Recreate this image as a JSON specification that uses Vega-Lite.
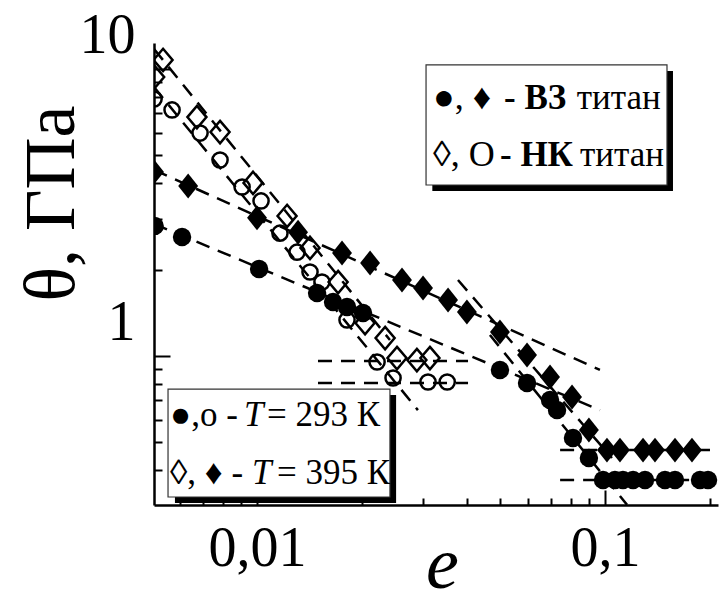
{
  "$schema": "https://vega.github.io/schema/vega-lite/v6.json",
  "width": 564,
  "height": 462,
  "autosize": {"type": "none"},
  "padding": {"left": 154, "top": 43, "right": 1, "bottom": 97},
  "background": "white",
  "view": {"stroke": null},
  "config": {
    "font": "Liberation Serif",
    "axis": {"labelFont": "Liberation Serif", "titleFont": "Liberation Serif", "labelColor": "black", "titleColor": "black", "grid": false}
  },
  "datasets": {
    "pts": [
      {"s": "vz293", "x": 0.00508, "y": 2.84}, {"s": "vz293", "x": 0.00609, "y": 2.60}, {"s": "vz293", "x": 0.01014, "y": 2.01},
      {"s": "vz293", "x": 0.01488, "y": 1.658}, {"s": "vz293", "x": 0.01654, "y": 1.542}, {"s": "vz293", "x": 0.01814, "y": 1.482},
      {"s": "vz293", "x": 0.02017, "y": 1.412}, {"s": "vz293", "x": 0.0499, "y": 0.894}, {"s": "vz293", "x": 0.0597, "y": 0.805},
      {"s": "vz293", "x": 0.0695, "y": 0.703}, {"s": "vz293", "x": 0.0728, "y": 0.648}, {"s": "vz293", "x": 0.0809, "y": 0.518},
      {"s": "vz293", "x": 0.0899, "y": 0.441}, {"s": "vz293", "x": 0.0987, "y": 0.37}, {"s": "vz293", "x": 0.1068, "y": 0.37},
      {"s": "vz293", "x": 0.1126, "y": 0.37}, {"s": "vz293", "x": 0.1204, "y": 0.37}, {"s": "vz293", "x": 0.1303, "y": 0.37},
      {"s": "vz293", "x": 0.1487, "y": 0.37}, {"s": "vz293", "x": 0.1589, "y": 0.37}, {"s": "vz293", "x": 0.1875, "y": 0.37},
      {"s": "vz293", "x": 0.1977, "y": 0.37},
      {"s": "vz395", "x": 0.00506, "y": 4.38}, {"s": "vz395", "x": 0.00634, "y": 3.91}, {"s": "vz395", "x": 0.0100, "y": 3.03},
      {"s": "vz395", "x": 0.01312, "y": 2.70}, {"s": "vz395", "x": 0.01755, "y": 2.285}, {"s": "vz395", "x": 0.02113, "y": 2.109},
      {"s": "vz395", "x": 0.0261, "y": 1.84}, {"s": "vz395", "x": 0.030, "y": 1.726}, {"s": "vz395", "x": 0.0354, "y": 1.567},
      {"s": "vz395", "x": 0.0401, "y": 1.423}, {"s": "vz395", "x": 0.0499, "y": 1.212}, {"s": "vz395", "x": 0.0597, "y": 1.008},
      {"s": "vz395", "x": 0.0695, "y": 0.845}, {"s": "vz395", "x": 0.0804, "y": 0.720}, {"s": "vz395", "x": 0.0899, "y": 0.552},
      {"s": "vz395", "x": 0.1013, "y": 0.47}, {"s": "vz395", "x": 0.1104, "y": 0.47}, {"s": "vz395", "x": 0.1286, "y": 0.47},
      {"s": "vz395", "x": 0.1392, "y": 0.47}, {"s": "vz395", "x": 0.1589, "y": 0.47}, {"s": "vz395", "x": 0.1778, "y": 0.47},
      {"s": "nk293", "x": 0.00506, "y": 7.86}, {"s": "nk293", "x": 0.0057, "y": 7.20}, {"s": "nk293", "x": 0.00686, "y": 5.98},
      {"s": "nk293", "x": 0.00783, "y": 4.82}, {"s": "nk293", "x": 0.00906, "y": 3.88}, {"s": "nk293", "x": 0.01027, "y": 3.47},
      {"s": "nk293", "x": 0.01164, "y": 2.68}, {"s": "nk293", "x": 0.01303, "y": 2.30}, {"s": "nk293", "x": 0.0142, "y": 1.962},
      {"s": "nk293", "x": 0.01537, "y": 1.81}, {"s": "nk293", "x": 0.01814, "y": 1.335}, {"s": "nk293", "x": 0.02213, "y": 0.953},
      {"s": "nk293", "x": 0.0246, "y": 0.838}, {"s": "nk293", "x": 0.031, "y": 0.812}, {"s": "nk293", "x": 0.0352, "y": 0.812},
      {"s": "nk395", "x": 0.00508, "y": 9.38}, {"s": "nk395", "x": 0.00537, "y": 10.75}, {"s": "nk395", "x": 0.00672, "y": 6.80},
      {"s": "nk395", "x": 0.00783, "y": 6.03}, {"s": "nk395", "x": 0.00974, "y": 4.01}, {"s": "nk395", "x": 0.0122, "y": 3.075},
      {"s": "nk395", "x": 0.0142, "y": 2.38}, {"s": "nk395", "x": 0.0171, "y": 1.81}, {"s": "nk395", "x": 0.02044, "y": 1.303},
      {"s": "nk395", "x": 0.02334, "y": 1.155}, {"s": "nk395", "x": 0.02525, "y": 0.984}, {"s": "nk395", "x": 0.0288, "y": 0.968},
      {"s": "nk395", "x": 0.0314, "y": 0.984}
    ],
    "fits": [
      {"id": "a", "x": 0.00506, "y": 2.884}, {"id": "a", "x": 0.0967, "y": 0.648},
      {"id": "b", "x": 0.0467, "y": 1.184}, {"id": "b", "x": 0.1157, "y": 0.303},
      {"id": "c", "x": 0.00506, "y": 4.45}, {"id": "c", "x": 0.0967, "y": 0.894},
      {"id": "d", "x": 0.0378, "y": 1.84}, {"id": "d", "x": 0.1047, "y": 0.441},
      {"id": "e1", "x": 0.00506, "y": 11.74}, {"id": "e1", "x": 0.0241, "y": 1.137},
      {"id": "e2", "x": 0.00506, "y": 8.65}, {"id": "e2", "x": 0.029, "y": 0.648},
      {"id": "f1", "x": 0.01497, "y": 0.96}, {"id": "f1", "x": 0.0404, "y": 0.96},
      {"id": "f2", "x": 0.01497, "y": 0.805}, {"id": "f2", "x": 0.0404, "y": 0.805},
      {"id": "g1", "x": 0.0743, "y": 0.47}, {"id": "g1", "x": 0.2003, "y": 0.47},
      {"id": "g2", "x": 0.0743, "y": 0.37}, {"id": "g2", "x": 0.2003, "y": 0.37}
    ],
    "shadows": [
      {"x": 0.0319, "x2": 0.1568, "y": 3.757, "y2": 9.84},
      {"x": 0.00581, "x2": 0.0251, "y": 0.3075, "y2": 0.731}
    ],
    "boxes": [
      {"x": 0.0306, "x2": 0.1507, "y": 3.943, "y2": 10.33},
      {"x": 0.00555, "x2": 0.0241, "y": 0.3227, "y2": 0.767}
    ],
    "notes": [
      {"box": 1, "kind": "regular", "x": 0.03203, "y": 7.925, "t": "●, ♦"},
      {"box": 1, "kind": "bold", "x": 0.05126, "y": 7.925, "t": "- ВЗ"},
      {"box": 1, "kind": "title", "x": 0.0829, "y": 7.925, "t": "титан"},
      {"box": 1, "kind": "regular", "x": 0.03203, "y": 5.015, "t": "◊, O"},
      {"box": 1, "kind": "bold", "x": 0.04991, "y": 5.015, "t": "- НК"},
      {"box": 1, "kind": "title", "x": 0.08476, "y": 5.015, "t": "титан"},
      {"box": 2, "kind": "regular", "x": 0.005623, "y": 0.6228, "t": "●,о -"},
      {"box": 2, "kind": "italic", "x": 0.009177, "y": 0.6228, "t": "T"},
      {"box": 2, "kind": "regular", "x": 0.01068, "y": 0.6228, "t": "= 293 К"},
      {"box": 2, "kind": "regular", "x": 0.005623, "y": 0.3913, "t": "◊, ♦ -"},
      {"box": 2, "kind": "italic", "x": 0.00967, "y": 0.3913, "t": "T"},
      {"box": 2, "kind": "regular", "x": 0.01141, "y": 0.3913, "t": "= 395 К"}
    ]
  },
  "encoding": {
    "x": {
      "field": "x", "type": "quantitative",
      "scale": {"type": "log", "domain": [0.005058, 0.2112], "nice": false},
      "axis": {
        "values": [0.006, 0.007, 0.008, 0.009, 0.01, 0.02, 0.03, 0.04, 0.05, 0.06, 0.07, 0.08, 0.09, 0.1, 0.2],
        "labelExpr": "datum.value == 0.01 ? '0,01' : (datum.value == 0.1 ? '0,1' : '')",
        "tickSize": {"condition": {"test": "datum.value == 0.01 || datum.value == 0.1", "value": -15}, "value": -7},
        "tickWidth": 2, "tickColor": "black",
        "domainColor": "black", "domainWidth": 2.5,
        "labelFontSize": 56, "labelPadding": 31, "labelBaseline": "top",
        "labelFlush": false, "labelOverlap": false,
        "title": "e", "titleFontSize": 74, "titleFontStyle": "italic", "titleFontWeight": "normal",
        "titleX": 288, "titleY": 82, "titleBaseline": "alphabetic", "titleAlign": "center"
      }
    },
    "y": {
      "field": "y", "type": "quantitative",
      "scale": {"type": "log", "domain": [0.3026, 12.32], "nice": false},
      "axis": {
        "values": [0.4, 0.5, 0.6, 0.7, 0.8, 0.9, 1, 2, 3, 4, 5, 6, 7, 8, 9, 10],
        "labelExpr": "datum.value == 1 ? '1' : (datum.value == 10 ? '10' : '')",
        "tickSize": {"condition": {"test": "datum.value == 1 || datum.value == 10", "value": -16}, "value": -8},
        "tickWidth": 2, "tickColor": "black",
        "domainColor": "black", "domainWidth": 2.5,
        "labelFontSize": 56, "labelPadding": 35, "labelOffset": -34,
        "labelFlush": false, "labelOverlap": false,
        "title": "θ, ГПа", "titleFontSize": 72, "titleFontWeight": "normal",
        "titleAngle": -90, "titleX": -81, "titleY": 160, "titleAlign": "center", "titleBaseline": "alphabetic"
      }
    }
  },
  "layer": [
    {
      "data": {"name": "fits"},
      "mark": {"type": "line", "strokeDash": [14, 9], "strokeWidth": 2.5, "color": "black", "clip": true},
      "encoding": {"detail": {"field": "id"}}
    },
    {
      "data": {"name": "pts"},
      "transform": [{"filter": "datum.s == 'vz293'"}],
      "mark": {"type": "point", "shape": "circle", "filled": true, "color": "black", "opacity": 1, "size": 340, "clip": true}
    },
    {
      "data": {"name": "pts"},
      "transform": [{"filter": "datum.s == 'vz395'"}],
      "mark": {"type": "point", "shape": "M0,-1L0.8,0L0,1L-0.8,0Z", "filled": true, "color": "black", "opacity": 1, "size": 620, "clip": true}
    },
    {
      "data": {"name": "pts"},
      "transform": [{"filter": "datum.s == 'nk293'"}],
      "mark": {"type": "point", "shape": "circle", "filled": false, "color": "black", "opacity": 1, "strokeWidth": 2.5, "size": 230, "clip": true}
    },
    {
      "data": {"name": "pts"},
      "transform": [{"filter": "datum.s == 'nk395'"}],
      "mark": {"type": "point", "shape": "M0,-1L0.85,0L0,1L-0.85,0Z", "filled": false, "color": "black", "opacity": 1, "strokeWidth": 2.5, "size": 500, "clip": true}
    },
    {
      "data": {"name": "shadows"},
      "mark": {"type": "rect", "color": "black"},
      "encoding": {"x2": {"field": "x2"}, "y2": {"field": "y2"}}
    },
    {
      "data": {"name": "boxes"},
      "mark": {"type": "rect", "fill": "white", "stroke": "#333333", "strokeWidth": 1.2},
      "encoding": {"x2": {"field": "x2"}, "y2": {"field": "y2"}}
    },
    {
      "data": {"name": "notes"},
      "transform": [{"filter": "datum.box == 1 && datum.kind == 'regular'"}],
      "mark": {"type": "text", "align": "left", "baseline": "middle", "font": "Liberation Serif", "fontSize": 36, "color": "black"},
      "encoding": {"text": {"field": "t"}}
    },
    {
      "data": {"name": "notes"},
      "transform": [{"filter": "datum.kind == 'title'"}],
      "mark": {"type": "text", "align": "left", "baseline": "middle", "font": "Liberation Serif", "fontSize": 35, "color": "black"},
      "encoding": {"text": {"field": "t"}}
    },
    {
      "data": {"name": "notes"},
      "transform": [{"filter": "datum.kind == 'bold'"}],
      "mark": {"type": "text", "align": "left", "baseline": "middle", "font": "Liberation Serif", "fontSize": 35, "fontWeight": "bold", "color": "black"},
      "encoding": {"text": {"field": "t"}}
    },
    {
      "data": {"name": "notes"},
      "transform": [{"filter": "datum.box == 2 && datum.kind == 'regular'"}],
      "mark": {"type": "text", "align": "left", "baseline": "middle", "font": "Liberation Serif", "fontSize": 35, "color": "black"},
      "encoding": {"text": {"field": "t"}}
    },
    {
      "data": {"name": "notes"},
      "transform": [{"filter": "datum.kind == 'italic'"}],
      "mark": {"type": "text", "align": "left", "baseline": "middle", "font": "Liberation Serif", "fontSize": 35, "fontStyle": "italic", "color": "black"},
      "encoding": {"text": {"field": "t"}}
    }
  ]
}
